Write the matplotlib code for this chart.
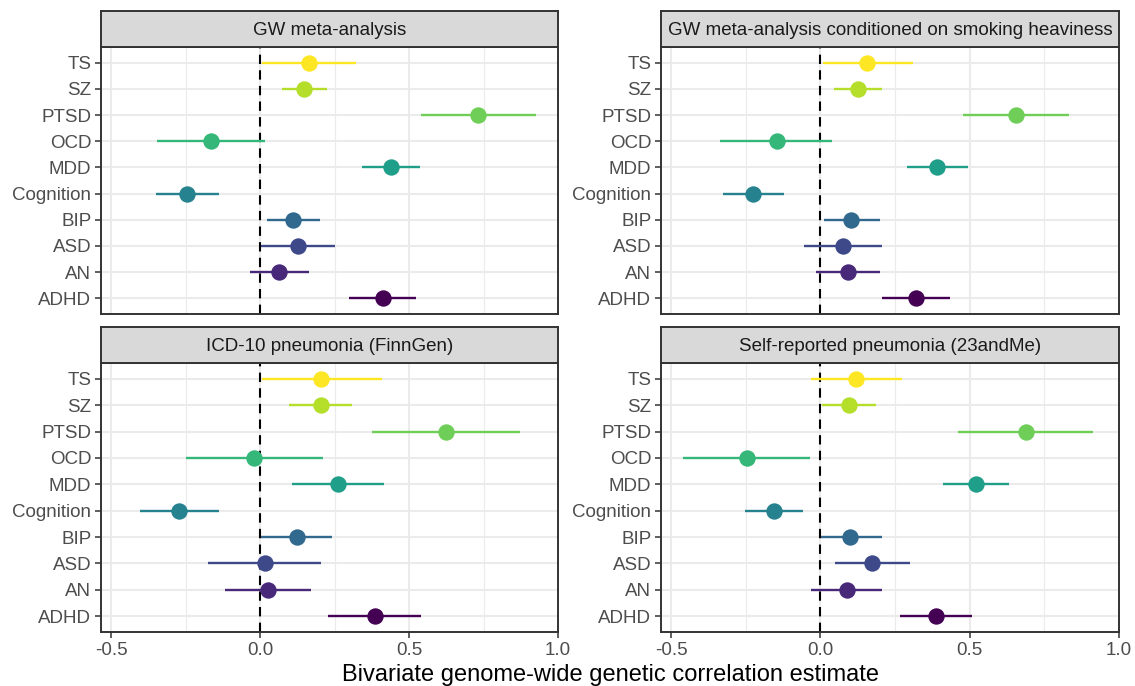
import matplotlib
matplotlib.use("Agg")
import matplotlib.pyplot as plt
import numpy as np

plt.rcParams['font.family'] = ['Liberation Sans', 'DejaVu Sans']

categories = ["ADHD", "AN", "ASD", "BIP", "Cognition", "MDD", "OCD", "PTSD", "SZ", "TS"]
panel_titles = ["GW meta-analysis",
                "GW meta-analysis conditioned on smoking heaviness",
                "ICD-10 pneumonia (FinnGen)",
                "Self-reported pneumonia (23andMe)"]

# estimates, lower and upper CI (order: ADHD..TS)
est_meta = [0.413, 0.064, 0.126, 0.112, -0.244, 0.438, -0.165, 0.733, 0.149, 0.165]
lo_meta = [0.299, -0.034, 0.002, 0.023, -0.348, 0.342, -0.345, 0.539, 0.074, 0.005]
hi_meta = [0.525, 0.164, 0.250, 0.200, -0.138, 0.538, 0.016, 0.927, 0.226, 0.323]

est_cond = [0.320, 0.093, 0.075, 0.103, -0.225, 0.391, -0.147, 0.654, 0.127, 0.157]
lo_cond = [0.205, -0.016, -0.054, 0.012, -0.327, 0.289, -0.336, 0.477, 0.047, 0.007]
hi_cond = [0.435, 0.200, 0.206, 0.199, -0.123, 0.493, 0.039, 0.831, 0.205, 0.309]

est_icd = [0.385, 0.028, 0.016, 0.124, -0.272, 0.262, -0.021, 0.624, 0.203, 0.206]
lo_icd = [0.229, -0.117, -0.175, 0.002, -0.403, 0.107, -0.248, 0.374, 0.098, 0.005]
hi_icd = [0.539, 0.172, 0.206, 0.241, -0.138, 0.417, 0.211, 0.871, 0.308, 0.410]

est_self = [0.388, 0.088, 0.174, 0.100, -0.157, 0.522, -0.246, 0.688, 0.097, 0.120]
lo_self = [0.267, -0.031, 0.048, 0.001, -0.254, 0.412, -0.460, 0.461, 0.004, -0.033]
hi_self = [0.509, 0.206, 0.301, 0.206, -0.060, 0.632, -0.034, 0.913, 0.185, 0.272]

x_ticks = [-0.5, 0.0, 0.5, 1.0]
x_tick_labels = ["-0.5", "0.0", "0.5", "1.0"]

panels = [(est_meta, lo_meta, hi_meta), (est_cond, lo_cond, hi_cond),
          (est_icd, lo_icd, hi_icd), (est_self, lo_self, hi_self)]

W, H = 1135, 686
fig = plt.figure(figsize=(W / 100, H / 100), dpi=100)

colors = plt.cm.viridis(np.linspace(0, 1, len(categories)))

# pixel geometry (left, right) and (strip_top, plot_top, plot_bottom)
cols = [(101, 558), (661, 1119)]
rows = [(11, 47, 314), (327, 363, 632)]

border = "#333333"
grid_c = "#EBEBEB"

for i, (est, lo, hi) in enumerate(panels):
    r, c = divmod(i, 2)
    x0, x1 = cols[c]
    st, pt, pb = rows[r]
    ax = fig.add_axes([x0 / W, 1 - pb / H, (x1 - x0) / W, (pb - pt) / H])
    sax = fig.add_axes([x0 / W, 1 - pt / H, (x1 - x0) / W, (pt - st) / H])

    ypos = np.arange(1, len(categories) + 1)
    ax.set_xlim(-0.534, 1.0)
    ax.set_ylim(0.4, len(categories) + 0.6)
    # grid
    for xv in [-0.25, 0.25, 0.75]:
        ax.axvline(xv, color=grid_c, lw=0.8, zorder=0)
    for xv in x_ticks:
        ax.axvline(xv, color=grid_c, lw=1.5, zorder=0)
    for yv in ypos:
        ax.axhline(yv, color=grid_c, lw=1.5, zorder=0)
    ax.axvline(0, color="black", lw=1.5, ls=(0, (4.5, 3)), zorder=1)
    for k in range(len(categories)):
        ax.plot([lo[k], hi[k]], [ypos[k], ypos[k]], color=colors[k], lw=1.7,
                solid_capstyle="butt", zorder=2)
        ax.plot(est[k], ypos[k], 'o', color=colors[k], ms=11.8, mec='none', zorder=3)

    ax.set_yticks(ypos)
    ax.set_yticklabels(categories)
    ax.set_xticks(x_ticks)
    if r == 1:
        ax.set_xticklabels(x_tick_labels)
    else:
        ax.set_xticklabels([])
        ax.tick_params(axis='x', length=0)
    ax.tick_params(axis='both', colors=border, labelcolor="#4D4D4D",
                   labelsize=13.5, width=1.1)
    ax.tick_params(axis='y', length=4, pad=3)
    if r == 1:
        ax.tick_params(axis='x', length=4, pad=3)
    for sp in ax.spines.values():
        sp.set_color(border)
        sp.set_linewidth(1.4)

    sax.set_xticks([])
    sax.set_yticks([])
    sax.set_facecolor("#D9D9D9")
    for sp in sax.spines.values():
        sp.set_color(border)
        sp.set_linewidth(1.4)
    sax.text(0.5, 0.47, panel_titles[i], ha='center', va='center',
             fontsize=13.5, color="#1A1A1A", transform=sax.transAxes)

fig.text(610 / W, 1 - 675 / H, "Bivariate genome-wide genetic correlation estimate",
         ha='center', va='center', fontsize=17, color="black")

fig.savefig("out.png", dpi=100)
